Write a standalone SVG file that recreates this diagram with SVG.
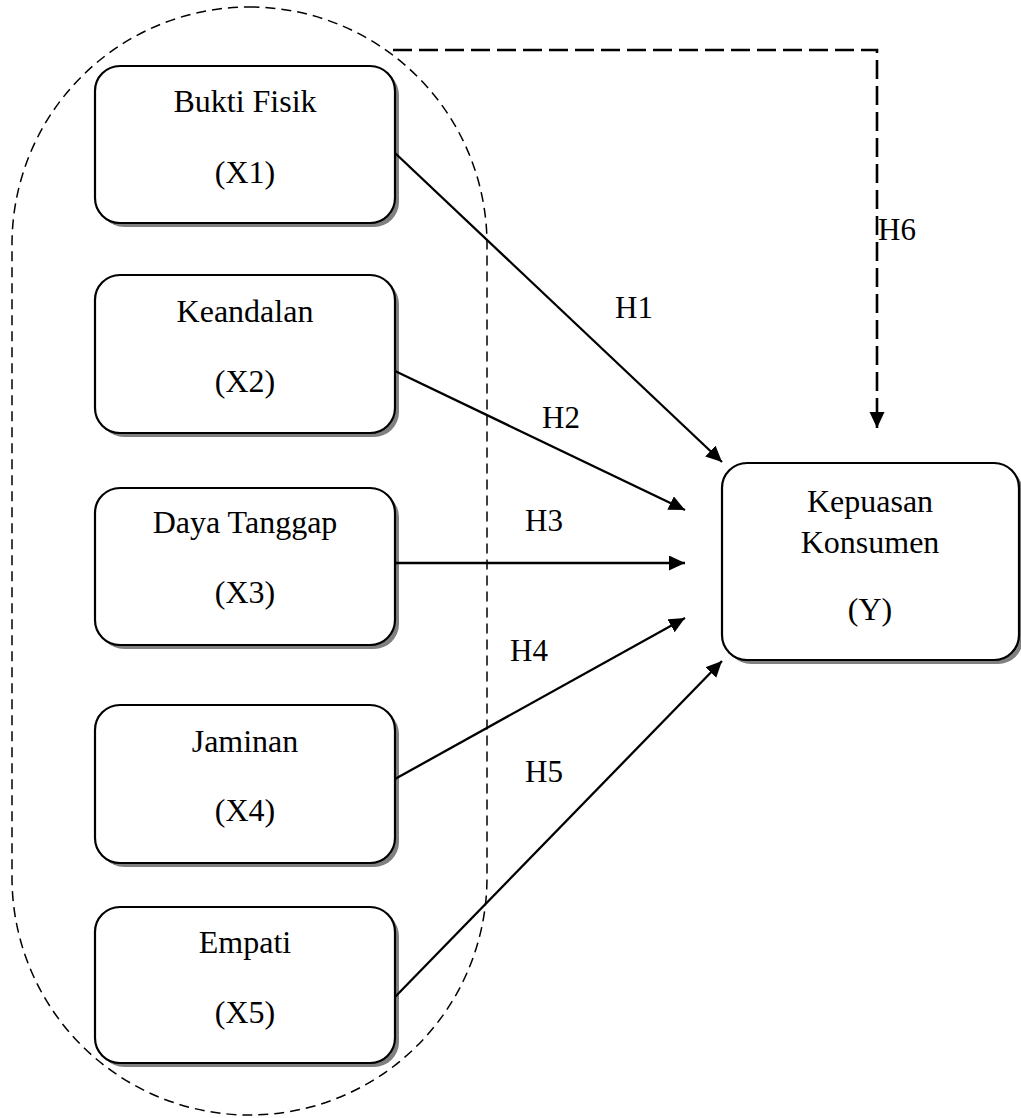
<svg xmlns="http://www.w3.org/2000/svg" width="1021" height="1118" viewBox="0 0 1021 1118">
<style>
  .shadow { fill: #808080; stroke: none; }
  .box { fill: #ffffff; stroke: #000000; stroke-width: 2.2; }
  .t { font-family: "Liberation Serif", "Times New Roman", serif; font-size: 32px; fill: #000000; text-anchor: middle; }
  .lbl { font-family: "Liberation Serif", "Times New Roman", serif; font-size: 31px; fill: #000000; }
  .conn { stroke: #000000; stroke-width: 2.3; fill: none; marker-end: url(#arrow); }
  .dconn { stroke: #000000; stroke-width: 2.6; fill: none; stroke-dasharray: 19 7; marker-end: url(#arrow); }
  .group { fill: none; stroke: #000000; stroke-width: 1.5; stroke-dasharray: 10 6; }
</style>
<defs>
  <marker id="arrow" markerUnits="userSpaceOnUse" markerWidth="18" markerHeight="16" refX="16" refY="7.5" orient="auto">
    <path d="M0,0 L16,7.5 L0,15 z" fill="#000000"/>
  </marker>
</defs>
<rect x="0" y="0" width="1021" height="1118" fill="#ffffff"/>

<g id="group-outline">
  <rect class="group" x="12" y="7" width="475" height="1108" rx="237.5" ry="237.5"/>
</g>

<g id="node-x1">
  <rect class="shadow" x="99" y="70" width="300" height="157" rx="25"/>
  <rect class="box" x="95" y="66" width="300" height="157" rx="25"/>
  <text class="t" x="245" y="112">Bukti Fisik</text>
  <text class="t" x="245" y="183">(X1)</text>
</g>
<g id="node-x2">
  <rect class="shadow" x="99" y="279" width="300" height="158" rx="25"/>
  <rect class="box" x="95" y="275" width="300" height="158" rx="25"/>
  <text class="t" x="245" y="322">Keandalan</text>
  <text class="t" x="245" y="392">(X2)</text>
</g>
<g id="node-x3">
  <rect class="shadow" x="99" y="492" width="300" height="157" rx="25"/>
  <rect class="box" x="95" y="488" width="300" height="157" rx="25"/>
  <text class="t" x="245" y="533">Daya Tanggap</text>
  <text class="t" x="245" y="603">(X3)</text>
</g>
<g id="node-x4">
  <rect class="shadow" x="99" y="709" width="300" height="158" rx="25"/>
  <rect class="box" x="95" y="705" width="300" height="158" rx="25"/>
  <text class="t" x="245" y="752">Jaminan</text>
  <text class="t" x="245" y="821">(X4)</text>
</g>
<g id="node-x5">
  <rect class="shadow" x="99" y="911" width="300" height="156" rx="25"/>
  <rect class="box" x="95" y="907" width="300" height="156" rx="25"/>
  <text class="t" x="245" y="953">Empati</text>
  <text class="t" x="245" y="1023">(X5)</text>
</g>
<g id="node-y">
  <rect class="shadow" x="726" y="467" width="297" height="197" rx="25"/>
  <rect class="box" x="722" y="463" width="297" height="197" rx="25"/>
  <text class="t" x="870" y="512">Kepuasan</text>
  <text class="t" x="870" y="553">Konsumen</text>
  <text class="t" x="870" y="620">(Y)</text>
</g>

<g id="connectors">
  <line class="conn" x1="395" y1="153" x2="722" y2="462"/>
  <line class="conn" x1="395" y1="371" x2="685" y2="510"/>
  <line class="conn" x1="395" y1="563" x2="685" y2="563"/>
  <line class="conn" x1="395" y1="779" x2="685" y2="618"/>
  <line class="conn" x1="395" y1="997" x2="722" y2="661"/>
  <polyline class="dconn" points="393,50 877,50 877,428"/>
  <text class="lbl" x="615" y="318">H1</text>
  <text class="lbl" x="542" y="428">H2</text>
  <text class="lbl" x="525" y="531">H3</text>
  <text class="lbl" x="510" y="661">H4</text>
  <text class="lbl" x="525" y="782">H5</text>
  <text class="lbl" x="878" y="240">H6</text>
</g>
</svg>
